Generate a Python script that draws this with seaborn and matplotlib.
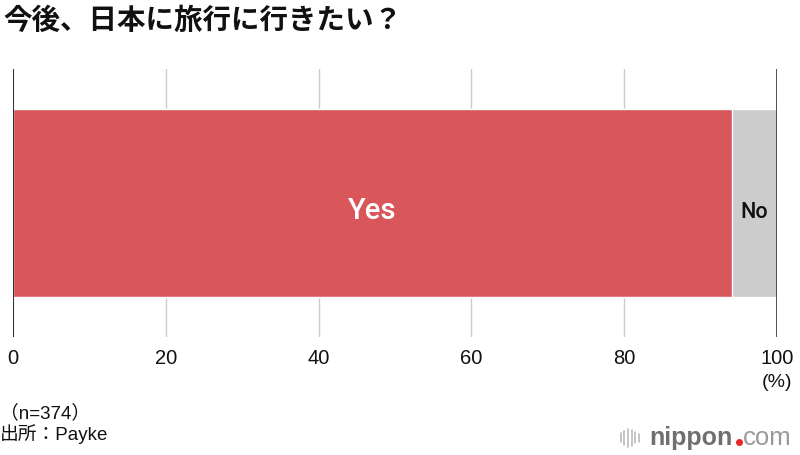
import matplotlib
matplotlib.use("Agg")
import matplotlib.pyplot as plt
import seaborn as sns
import pandas as pd

title = "今後、日本に旅行に行きたい？"
categories = ["Yes", "No"]
values = [94.1, 5.9]
ticks = [0, 20, 40, 60, 80, 100]
note = "（n=374）\n出所：Payke"

sns.set_theme(style="white")
plt.rcParams["font.family"] = ["Liberation Sans", "Noto Sans CJK JP", "DejaVu Sans"]

fig = plt.figure(figsize=(8, 4.56), dpi=100)
ax = fig.add_axes([0.01625, 0.259, 0.955, 0.5875])

df = pd.DataFrame({"row": ["q"], "total": [sum(values)], "yes": [values[0]]})

# stacked look: full bar in grey, then Yes on top
sns.barplot(data=df, x="total", y="row", color="#cccccc", width=0.8,
            saturation=1, ax=ax, orient="h")
sns.barplot(data=df, x="yes", y="row", color="#d9575a", width=0.8,
            saturation=1, ax=ax, orient="h")

ax.set_xlim(0, 100)
ax.set_ylim(0.57, -0.57)
ax.set_xticks(ticks)
ax.set_xticklabels([str(t) for t in ticks], fontsize=14.5, color="#111111")
ax.set_yticks([])
ax.set_xlabel("")
ax.set_ylabel("")
ax.tick_params(axis="x", length=0, pad=8)

for t in ticks[1:-1]:
    ax.axvline(t, color="#cccccc", lw=1, zorder=0)
ax.axvline(0, color="#333333", lw=1.5, zorder=5)
ax.axvline(100, color="#333333", lw=1.2, zorder=5)
for s in ax.spines.values():
    s.set_visible(False)

ax.text(values[0] / 2, 0.03, categories[0], color="white", fontsize=21,
        ha="center", va="center", family="Roboto", fontweight="medium")
ax.text(values[0] + values[1] / 2, 0.035, categories[1], color="#111111",
        fontsize=15.5, ha="center", va="center", family="Roboto",
        fontweight="medium")

fig.text(0.004, 0.955, title, fontsize=20.5, fontweight="bold",
         ha="left", va="center", color="#111111",
         family=["Noto Sans CJK JP", "DejaVu Sans"])
fig.text(0.971, 0.162, "(%)", fontsize=14, ha="center", va="center",
         color="#111111")
fig.text(0.0, 0.07, note, fontsize=13.5, ha="left", va="center",
         linespacing=1.1, color="#111111")

# logo
fig.text(0.812, 0.040, "nippon", fontsize=18, fontweight="bold",
         color="#6f6f6f", ha="left", va="center")
fig.add_artist(plt.Line2D([0.9235], [0.029], marker="o", ms=4,
                          color="#e8262a", lw=0))
fig.text(0.929, 0.040, "com", fontsize=18.5, color="#9a9a9a",
         ha="left", va="center")
for i, h in enumerate([0.02, 0.03, 0.04, 0.035, 0.025, 0.018]):
    x = 0.776 + i * 0.0045
    fig.add_artist(plt.Line2D([x, x], [0.038 - h / 2, 0.038 + h / 2],
                              color="#bbbbbb", lw=1.2))

fig.savefig("out.png", dpi=100)
